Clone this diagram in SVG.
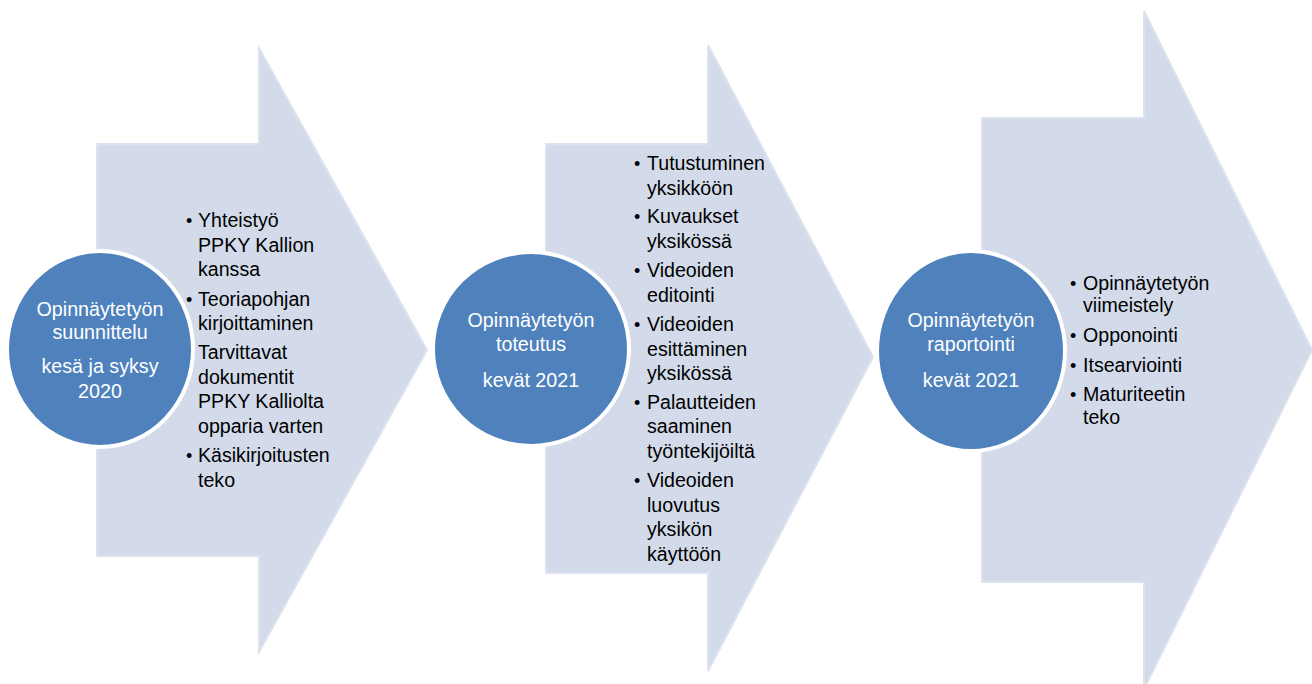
<svg xmlns="http://www.w3.org/2000/svg" width="1312" height="684" viewBox="0 0 1312 684">
<style>
.arrow{fill:#D3DBEA;stroke:#DCE2EE;stroke-width:2;stroke-linejoin:miter}
.circ{fill:#4F81BD;stroke:#FFFFFF;stroke-width:4}
.title{font-family:"Liberation Sans",Arial,sans-serif;font-size:19.7px;fill:#FFFFFF;text-anchor:middle}
.item{font-family:"Liberation Sans",Arial,sans-serif;font-size:19.6px;fill:#000000}
.bul{font-family:"Liberation Sans",Arial,sans-serif;font-size:18px;fill:#000000}
</style>
<rect width="1312" height="684" fill="#FFFFFF"/>
<g id="connectors"></g>

<g id="arrow1">
<path class="arrow" d="M97,144 L259,144 L259,48 L427,350 L259,652 L259,556 L97,556 Z"/>
<text class="bul" x="186" y="227">•</text>
<text class="item">
<tspan x="198" y="227">Yhteistyö</tspan>
<tspan x="198" y="251.5">PPKY Kallion</tspan>
<tspan x="198" y="276">kanssa</tspan>
</text>
<text class="bul" x="186" y="305.5">•</text>
<text class="item">
<tspan x="198" y="305.5">Teoriapohjan</tspan>
<tspan x="198" y="330">kirjoittaminen</tspan>
<tspan x="198" y="359">Tarvittavat</tspan>
<tspan x="198" y="383.5">dokumentit</tspan>
<tspan x="198" y="408">PPKY Kalliolta</tspan>
<tspan x="198" y="432.5">opparia varten</tspan>
</text>
<text class="bul" x="186" y="462">•</text>
<text class="item">
<tspan x="198" y="462">Käsikirjoitusten</tspan>
<tspan x="198" y="486.5">teko</tspan>
</text>
</g>

<g id="arrow2">
<path class="arrow" d="M546,144 L708,144 L708,45 L873,357 L708,671 L708,573 L546,573 Z"/>
<text class="bul" x="634" y="170">•</text>
<text class="item"><tspan x="647" y="170">Tutustuminen</tspan><tspan x="647" y="194.5">yksikköön</tspan></text>
<text class="bul" x="634" y="223">•</text>
<text class="item"><tspan x="647" y="223">Kuvaukset</tspan><tspan x="647" y="247.5">yksikössä</tspan></text>
<text class="bul" x="634" y="277">•</text>
<text class="item"><tspan x="647" y="277">Videoiden</tspan><tspan x="647" y="301.5">editointi</tspan></text>
<text class="bul" x="634" y="331">•</text>
<text class="item"><tspan x="647" y="331">Videoiden</tspan><tspan x="647" y="355.5">esittäminen</tspan><tspan x="647" y="380">yksikössä</tspan></text>
<text class="bul" x="634" y="408.5">•</text>
<text class="item"><tspan x="647" y="408.5">Palautteiden</tspan><tspan x="647" y="433">saaminen</tspan><tspan x="647" y="457.5">työntekijöiltä</tspan></text>
<text class="bul" x="634" y="487">•</text>
<text class="item"><tspan x="647" y="487">Videoiden</tspan><tspan x="647" y="511.5">luovutus</tspan><tspan x="647" y="536">yksikön</tspan><tspan x="647" y="560.5">käyttöön</tspan></text>
</g>

<g id="arrow3">
<path class="arrow" d="M982,118 L1144,118 L1144,11 L1312,350 L1144,689 L1144,582 L982,582 Z"/>
<text class="bul" x="1070" y="290">•</text>
<text class="item"><tspan x="1083" y="290">Opinnäytetyön</tspan><tspan x="1083" y="312">viimeistely</tspan></text>
<text class="bul" x="1070" y="342">•</text>
<text class="item"><tspan x="1083" y="342">Opponointi</tspan></text>
<text class="bul" x="1070" y="372">•</text>
<text class="item"><tspan x="1083" y="372">Itsearviointi</tspan></text>
<text class="bul" x="1070" y="401">•</text>
<text class="item"><tspan x="1083" y="401">Maturiteetin</tspan><tspan x="1083" y="424">teko</tspan></text>
</g>

<g id="circle1">
<ellipse class="circ" cx="100" cy="349" rx="93" ry="98"/>
<text class="title"><tspan x="100" y="316">Opinnäytetyön</tspan><tspan x="100" y="339">suunnittelu</tspan><tspan x="100" y="373">kesä ja syksy</tspan><tspan x="100" y="398">2020</tspan></text>
</g>

<g id="circle2">
<ellipse class="circ" cx="531" cy="349" rx="98" ry="97"/>
<text class="title"><tspan x="531" y="327">Opinnäytetyön</tspan><tspan x="531" y="351">toteutus</tspan><tspan x="531" y="387">kevät 2021</tspan></text>
</g>

<g id="circle3">
<ellipse class="circ" cx="971" cy="351" rx="94" ry="100"/>
<text class="title"><tspan x="971" y="327">Opinnäytetyön</tspan><tspan x="971" y="351">raportointi</tspan><tspan x="971" y="387">kevät 2021</tspan></text>
</g>
</svg>
